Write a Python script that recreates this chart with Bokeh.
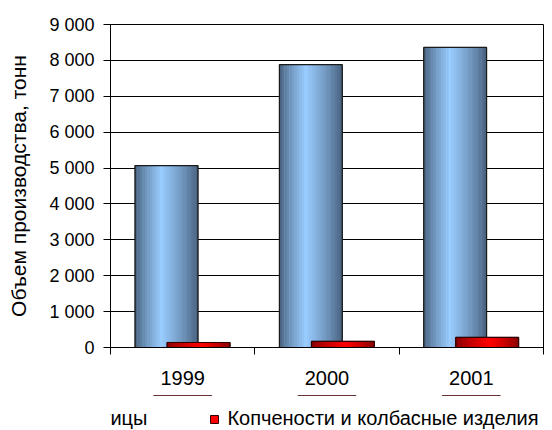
from bokeh.plotting import figure
from bokeh.layouts import column
from bokeh.models import FixedTicker, Legend, LegendItem, ColumnDataSource, Range1d
from bokeh.transform import dodge
from bokeh.embed import file_html
from bokeh.resources import INLINE

# ---- data ----
years = ["1999", "2000", "2001"]
poultry = [5070, 7880, 8360]          # Мясо птицы
sausages = [140, 170, 280]            # Копчености и колбасные изделия
y_ticks = [0, 1000, 2000, 3000, 4000, 5000, 6000, 7000, 8000, 9000]
y_tick_labels = ["0", "1 000", "2 000", "3 000", "4 000", "5 000", "6 000", "7 000", "8 000", "9 000"]
series_names = ["Мясо птицы", "Копчености и колбасные изделия"]
y_title = "Объем производства, тонн"

FONT = "Liberation Sans"

xpos = [i + 0.5 for i in range(len(years))]
src = ColumnDataSource(dict(x=xpos, poultry=poultry, sausages=sausages))

p = figure(width=552, height=395, output_backend="svg", toolbar_location=None,
           x_range=Range1d(0, len(years)), y_range=Range1d(0, 9000),
           min_border_left=110, min_border_top=24, min_border_right=9,
           min_border_bottom=48)

BAR_W = 0.435
OFF_B = -0.112
OFF_R = 0.11


def lerp(c1, c2, t):
    return "#%02x%02x%02x" % tuple(int(round(a + (b - a) * t)) for a, b in zip(c1, c2))


def gradient_bars(col, off, dark, light, peak, legend_fill, legend_line):
    p.vbar(x=dodge("x", off), top=col, width=BAR_W, source=src,
           fill_color=legend_fill, line_color=legend_line, line_width=1)
    n = 25
    sw = BAR_W / n
    for k in range(n):
        c = (k + 0.5) / n
        if c <= peak:
            t = c / peak
        else:
            t = (1 - c) / (1 - peak)
        t = t ** 0.8
        color = lerp(dark, light, t)
        o = off - BAR_W / 2 + (k + 0.5) * sw
        p.vbar(x=dodge("x", o), top=col, width=sw * 1.15, source=src,
               fill_color=color, line_color=None)
    p.vbar(x=dodge("x", off), top=col, width=BAR_W, source=src,
           fill_color=None, line_color=legend_line, line_width=1.2)


gradient_bars("poultry", OFF_B, (0x45, 0x5c, 0x78), (0x99, 0xcc, 0xff), 0.42,
              "#99ccff", "#1a1a1a")
gradient_bars("sausages", OFF_R, (0x80, 0x00, 0x00), (0xff, 0x00, 0x00), 0.55,
              "#ff0000", "#300000")

# ---- axes ----
p.xgrid.visible = False
p.ygrid.grid_line_color = "black"
p.ygrid.grid_line_width = 1
p.ygrid.ticker = FixedTicker(ticks=y_ticks)

p.outline_line_color = "black"
p.outline_line_width = 1
p.outline_line_alpha = 1

ya = p.yaxis[0]
ya.ticker = FixedTicker(ticks=y_ticks)
ya.major_label_overrides = {t: l for t, l in zip(y_ticks, y_tick_labels)}
ya.major_tick_out = 7
ya.major_tick_in = 0
ya.minor_tick_out = 0
ya.minor_tick_in = 0
ya.major_tick_line_color = "black"
ya.axis_line_color = "black"
ya.major_label_text_font = FONT
ya.major_label_text_font_size = "18px"
ya.major_label_text_color = "black"
ya.major_label_standoff = 9
ya.axis_label = y_title
ya.axis_label_text_font = FONT
ya.axis_label_text_font_size = "21px"
ya.axis_label_text_font_style = "normal"
ya.axis_label_text_color = "black"
ya.axis_label_standoff = 16

xa = p.xaxis[0]
xa.ticker = FixedTicker(ticks=xpos, minor_ticks=list(range(len(years) + 1)))
xa.major_label_overrides = {x: y for x, y in zip(xpos, years)}
xa.major_tick_out = 0
xa.major_tick_in = 0
xa.minor_tick_out = 7
xa.minor_tick_in = 0
xa.minor_tick_line_color = "black"
xa.axis_line_color = "black"
xa.major_label_text_font = FONT
xa.major_label_text_font_size = "20px"
xa.major_label_text_color = "black"
xa.major_label_standoff = 16

# ---- legend strip below the chart ----
p2 = figure(width=552, height=35, output_backend="svg", toolbar_location=None,
            x_axis_location=None, y_axis_location=None,
            x_range=Range1d(0, len(years)), y_range=Range1d(-2, -1),
            min_border_left=0, min_border_right=0, min_border_top=0, min_border_bottom=0)
p2.grid.visible = False
p2.outline_line_color = None
# same series, drawn outside this strip's range: only their legend swatches show
lr1 = p2.vbar(x="x", top="poultry", width=0.4, source=src,
              fill_color="#99ccff", line_color="#1a1a1a")
lr2 = p2.vbar(x="x", top="sausages", width=0.4, source=src,
              fill_color="#ff0000", line_color="#300000")

legend = Legend(items=[LegendItem(label=series_names[0], renderers=[lr1]),
                       LegendItem(label=series_names[1], renderers=[lr2])],
                orientation="horizontal", location=(-92, 0),
                glyph_width=10, glyph_height=10, label_standoff=8, spacing=62,
                label_text_font=FONT, label_text_font_size="20px",
                label_text_color="black", border_line_color=None,
                background_fill_alpha=0, padding=0, margin=0)
p2.add_layout(legend, "center")

layout = column(p, p2, spacing=0)
open("out.html", "w").write(file_html(layout, INLINE))
